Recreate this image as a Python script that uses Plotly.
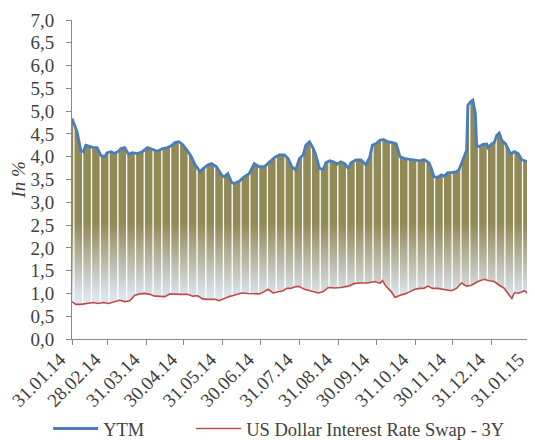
import plotly.graph_objects as go
import pandas as pd

# ---------------- data ----------------
ytm_dates = [
    "2014-01-31", "2014-02-02", "2014-02-04", "2014-02-07", "2014-02-09", "2014-02-11",
    "2014-02-14", "2014-02-17", "2014-02-20", "2014-02-23", "2014-02-26", "2014-02-28",
    "2014-03-03", "2014-03-06", "2014-03-09", "2014-03-11", "2014-03-14", "2014-03-17",
    "2014-03-20", "2014-03-24", "2014-03-28", "2014-04-01", "2014-04-05", "2014-04-09",
    "2014-04-13", "2014-04-17", "2014-04-20", "2014-04-23", "2014-04-26", "2014-04-29",
    "2014-05-02", "2014-05-06", "2014-05-09", "2014-05-13", "2014-05-15", "2014-05-19",
    "2014-05-22", "2014-05-26", "2014-05-30", "2014-06-01", "2014-06-04", "2014-06-07",
    "2014-06-09", "2014-06-13", "2014-06-17", "2014-06-21", "2014-06-25", "2014-06-29",
    "2014-07-03", "2014-07-07", "2014-07-11", "2014-07-15", "2014-07-19", "2014-07-22",
    "2014-07-25", "2014-07-28", "2014-07-31", "2014-08-03", "2014-08-05", "2014-08-08",
    "2014-08-11", "2014-08-13", "2014-08-16", "2014-08-19", "2014-08-21", "2014-08-24",
    "2014-08-27", "2014-08-30", "2014-09-02", "2014-09-05", "2014-09-08", "2014-09-10",
    "2014-09-14", "2014-09-18", "2014-09-22", "2014-09-25", "2014-09-27", "2014-09-30",
    "2014-10-03", "2014-10-06", "2014-10-09", "2014-10-13", "2014-10-16", "2014-10-19",
    "2014-10-23", "2014-10-27", "2014-10-31", "2014-11-04", "2014-11-07", "2014-11-11",
    "2014-11-13", "2014-11-15", "2014-11-18", "2014-11-21", "2014-11-23", "2014-11-26",
    "2014-11-29", "2014-12-03", "2014-12-05", "2014-12-08", "2014-12-11", "2014-12-12",
    "2014-12-14", "2014-12-16", "2014-12-18", "2014-12-19", "2014-12-21", "2014-12-24",
    "2014-12-27", "2014-12-28", "2014-12-31", "2015-01-02", "2015-01-04", "2015-01-06",
    "2015-01-08", "2015-01-11", "2015-01-13", "2015-01-15", "2015-01-18", "2015-01-21",
    "2015-01-24", "2015-01-27", "2015-01-29",
]
ytm_values = [
    4.84, 4.69, 4.55, 4.14, 4.11, 4.25,
    4.22, 4.20, 4.20, 4.03, 4.00, 4.09,
    4.11, 4.07, 4.12, 4.18, 4.20, 4.05,
    4.09, 4.07, 4.11, 4.20, 4.16, 4.12,
    4.18, 4.20, 4.24, 4.31, 4.33, 4.27,
    4.16, 4.00, 3.82, 3.67, 3.73, 3.82,
    3.85, 3.78, 3.60, 3.56, 3.63, 3.44,
    3.41, 3.46, 3.56, 3.63, 3.85, 3.78,
    3.78, 3.89, 3.98, 4.04, 4.04, 3.96,
    3.78, 3.71, 3.96, 4.04, 4.25, 4.33,
    4.18, 4.04, 3.74, 3.72, 3.87, 3.91,
    3.89, 3.84, 3.89, 3.85, 3.74, 3.87,
    3.93, 3.93, 3.82, 4.00, 4.25, 4.29,
    4.36, 4.38, 4.33, 4.31, 4.28, 4.00,
    3.96, 3.94, 3.93, 3.91, 3.94, 3.87,
    3.74, 3.56, 3.55, 3.60, 3.57, 3.65,
    3.65, 3.67, 3.72, 3.93, 4.14, 5.13,
    5.20, 5.24, 4.95, 4.25, 4.22, 4.27,
    4.28, 4.20, 4.28, 4.31, 4.47, 4.52,
    4.36, 4.28, 4.18, 4.06, 4.11, 4.07,
    3.93, 3.91, 3.89,
]

swap_dates = [
    "2014-01-31", "2014-02-03", "2014-02-07", "2014-02-11", "2014-02-17", "2014-02-21",
    "2014-02-25", "2014-03-01", "2014-03-06", "2014-03-10", "2014-03-14", "2014-03-18",
    "2014-03-22", "2014-03-26", "2014-03-30", "2014-04-03", "2014-04-07", "2014-04-11",
    "2014-04-15", "2014-04-19", "2014-04-23", "2014-04-28", "2014-05-03", "2014-05-07",
    "2014-05-11", "2014-05-15", "2014-05-19", "2014-05-25", "2014-05-28", "2014-06-01",
    "2014-06-05", "2014-06-09", "2014-06-15", "2014-06-20", "2014-06-25", "2014-06-29",
    "2014-07-03", "2014-07-06", "2014-07-10", "2014-07-14", "2014-07-18", "2014-07-21",
    "2014-07-24", "2014-07-28", "2014-07-31", "2014-08-04", "2014-08-09", "2014-08-15",
    "2014-08-19", "2014-08-23", "2014-08-28", "2014-09-02", "2014-09-08", "2014-09-13",
    "2014-09-18", "2014-09-23", "2014-09-29", "2014-10-03", "2014-10-05", "2014-10-08",
    "2014-10-12", "2014-10-15", "2014-10-19", "2014-10-23", "2014-10-27", "2014-10-31",
    "2014-11-04", "2014-11-07", "2014-11-10", "2014-11-14", "2014-11-18", "2014-11-23",
    "2014-11-29", "2014-12-03", "2014-12-07", "2014-12-11", "2014-12-15", "2014-12-20",
    "2014-12-25", "2014-12-29", "2015-01-02", "2015-01-06", "2015-01-10", "2015-01-14",
    "2015-01-16", "2015-01-18", "2015-01-22", "2015-01-26", "2015-01-29", "2015-01-30",
]
swap_values = [
    0.82, 0.76, 0.76, 0.77, 0.80, 0.78,
    0.80, 0.78, 0.82, 0.85, 0.82, 0.84,
    0.96, 0.99, 1.00, 0.98, 0.94, 0.93,
    0.93, 0.99, 0.98, 0.98, 0.98, 0.94,
    0.95, 0.88, 0.87, 0.87, 0.84, 0.89,
    0.93, 0.96, 1.01, 1.00, 0.99, 0.99,
    1.04, 1.09, 1.01, 1.04, 1.06, 1.11,
    1.11, 1.15, 1.15, 1.09, 1.06, 1.01,
    1.04, 1.13, 1.12, 1.13, 1.16, 1.22,
    1.23, 1.23, 1.26, 1.22, 1.28, 1.15,
    1.04, 0.91, 0.96, 0.99, 1.04, 1.09,
    1.11, 1.11, 1.16, 1.11, 1.11, 1.09,
    1.06, 1.11, 1.23, 1.16, 1.18, 1.26,
    1.31, 1.28, 1.26, 1.18, 1.11, 0.96,
    0.89, 1.01, 1.01, 1.06, 0.99, 1.01,
]

tick_dates = [
    "2014-01-31", "2014-02-28", "2014-03-31", "2014-04-30", "2014-05-31", "2014-06-30",
    "2014-07-31", "2014-08-31", "2014-09-30", "2014-10-31", "2014-11-30", "2014-12-31",
    "2015-01-31",
]
tick_labels = [
    "31.01.14", "28.02.14", "31.03.14", "30.04.14", "31.05.14", "30.06.14",
    "31.07.14", "31.08.14", "30.09.14", "31.10.14", "30.11.14", "31.12.14",
    "31.01.15",
]

series_names = ["YTM", "US Dollar Interest Rate Swap - 3Y"]

# ---------------- styles ----------------
BLUE = "#4A7EBB"
RED = "#BE4B48"
OLIVE = "#918956"
LIGHT = "#DDE4EE"
AXIS = "#898989"
TEXT = "#404040"
FONT = "Liberation Serif"

# weekend gaps (no trading on Sat/Sun): centred between Friday and Monday
weekends = pd.date_range("2014-02-01", "2015-01-31", freq="W-SAT") + pd.Timedelta(hours=12)
gap_x, gap_y = [], []
for w in weekends:
    gap_x += [w, w, None]
    gap_y += [0.4, 6.0, None]

fig = go.Figure()

# fill base (YTM, invisible)
fig.add_trace(go.Scatter(
    x=ytm_dates, y=ytm_values, mode="lines",
    line=dict(width=0, color=BLUE), showlegend=False, hoverinfo="skip",
))
# gradient fill from swap up to YTM
fig.add_trace(go.Scatter(
    x=swap_dates, y=swap_values, mode="lines",
    line=dict(width=0, color=RED), fill="tonexty",
    fillgradient=dict(type="vertical", colorscale=[[0, LIGHT], [1, OLIVE]],
                      start=0.95, stop=2.55),
    showlegend=False, hoverinfo="skip",
))
# white weekend gaps
fig.add_trace(go.Scatter(
    x=gap_x, y=gap_y, mode="lines",
    line=dict(width=1.3, color="white"), showlegend=False, hoverinfo="skip",
))
# visible lines
fig.add_trace(go.Scatter(
    x=ytm_dates, y=ytm_values, mode="lines", name=series_names[0],
    line=dict(width=2.8, color=BLUE), legend="legend",
))
fig.add_trace(go.Scatter(
    x=swap_dates, y=swap_values, mode="lines", name=series_names[1],
    line=dict(width=1.6, color=RED), legend="legend2",
))

legend_common = dict(orientation="h", yanchor="middle", y=-0.282, xanchor="left",
                     font=dict(family=FONT, size=18.5, color=TEXT),
                     itemwidth=45, bgcolor="rgba(0,0,0,0)")

# the page body adds an 8px offset, so the margins are set 8px less on top/left
fig.update_layout(
    width=535, height=440,
    margin=dict(l=64, r=12, t=12, b=109, autoexpand=False),
    paper_bgcolor="white", plot_bgcolor="white",
    separators=", ",
    font=dict(family=FONT, size=18, color=TEXT),
    showlegend=True,
    legend=dict(x=-0.052, **legend_common),
    legend2=dict(x=-0.052 + 143 / 459, **legend_common),
    hovermode=False,
)
fig.update_xaxes(
    type="date", range=["2014-01-31", "2015-01-31 06:00"],
    tickvals=tick_dates, ticktext=tick_labels, tickangle=-45,
    ticks="outside", ticklen=5, tickcolor=AXIS, showline=True, linecolor=AXIS,
    linewidth=1, showgrid=False, zeroline=False, automargin=False,
    ticklabelshift=-12, ticklabelstandoff=-4, ticklabeloverflow="allow",
    tickfont=dict(family=FONT, size=19, color=TEXT),
)
fig.update_yaxes(
    range=[0, 7], dtick=0.5, tick0=0, tickformat=".1f",
    ticks="outside", ticklen=5, tickcolor=AXIS, showline=True, linecolor=AXIS,
    linewidth=1, showgrid=False, zeroline=False, automargin=False,
    tickfont=dict(family=FONT, size=19, color=TEXT),
    ticklabelstandoff=8,
    title=dict(text="<i>In %</i>", font=dict(family=FONT, size=19, color=TEXT), standoff=0),
)

fig.write_html("out.html")
